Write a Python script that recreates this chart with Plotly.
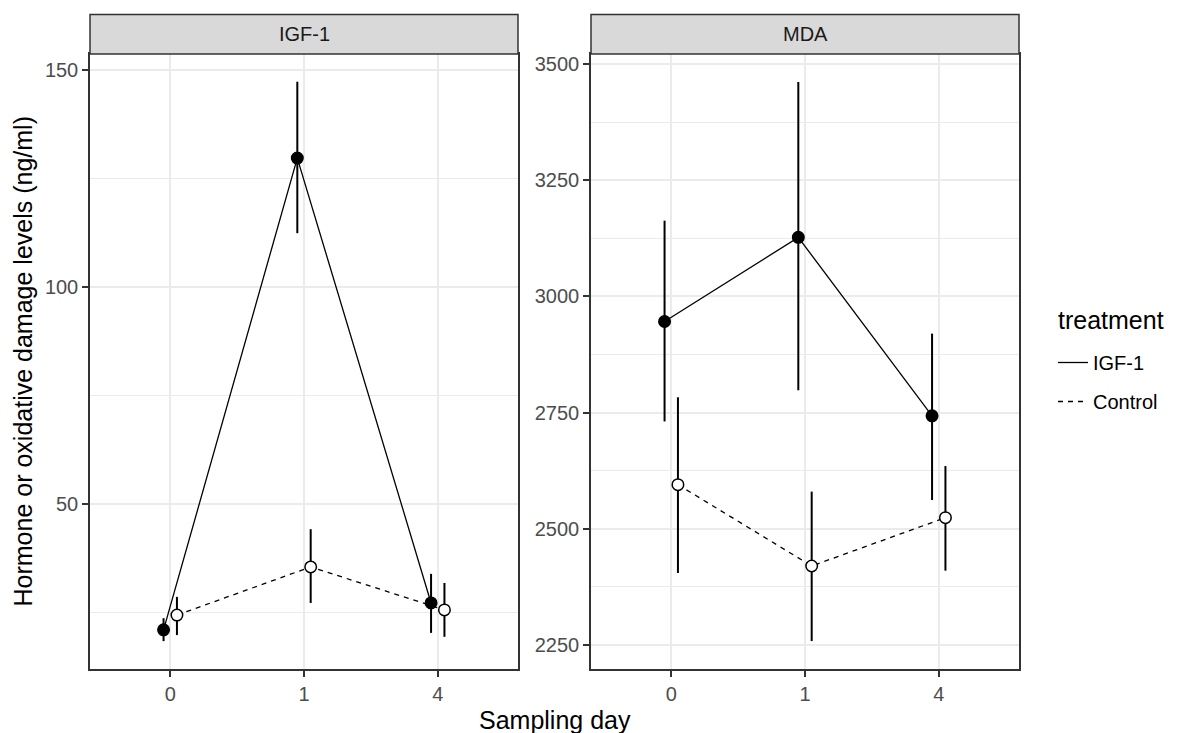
import plotly.graph_objects as go

# ---------------- data ----------------
days = ["0", "1", "4"]
treatments = ["IGF-1", "Control"]

igf_igf_mean = [21.0, 129.7, 27.2]
igf_igf_upper = [23.7, 147.3, 33.9]
igf_igf_lower = [18.4, 112.4, 20.3]

igf_ctrl_mean = [24.4, 35.5, 25.6]
igf_ctrl_upper = [28.6, 44.2, 31.8]
igf_ctrl_lower = [19.8, 27.2, 19.4]

mda_igf_mean = [2946, 3127, 2743]
mda_igf_upper = [3163, 3461, 2920]
mda_igf_lower = [2731, 2798, 2562]

mda_ctrl_mean = [2595, 2420, 2524]
mda_ctrl_upper = [2783, 2580, 2635]
mda_ctrl_lower = [2405, 2258.5, 2410]

igf_ticks = [50, 100, 150]
igf_minor = [25, 75, 125]
mda_ticks = [2250, 2500, 2750, 3000, 3250, 3500]
mda_minor = [2375, 2625, 2875, 3125, 3375]

# ---------------- layout constants ----------------
W, H = 1184, 733
FONT = "Liberation Sans, Arial, sans-serif"
DODGE = 0.05
SMALL = 20
BIG = 25

def px_x(p):
    return p / W

def px_y(p):
    return 1 - p / H

left_dom = [px_x(90), px_x(518)]
right_dom = [px_x(591), px_x(1019)]
y_dom = [px_y(669), px_y(54)]

fig = go.Figure()

def add_series(means, uppers, lowers, offset, dashed, xa, ya):
    xs = [i + offset for i in range(len(days))]
    plus = [u - m for u, m in zip(uppers, means)]
    minus = [m - l for m, l in zip(means, lowers)]
    fig.add_trace(go.Scatter(
        x=xs, y=means, mode="lines+markers",
        xaxis=xa, yaxis=ya, showlegend=False,
        line=dict(color="black", width=1.3, dash="5px,5px" if dashed else "solid"),
        marker=dict(size=11.5, color="white" if dashed else "black",
                    line=dict(color="black", width=1.5)),
        error_y=dict(type="data", array=plus, arrayminus=minus, visible=True,
                     thickness=2, width=0, color="black"),
    ))

add_series(igf_igf_mean, igf_igf_upper, igf_igf_lower, -DODGE, False, "x", "y")
add_series(igf_ctrl_mean, igf_ctrl_upper, igf_ctrl_lower, DODGE, True, "x", "y")
add_series(mda_igf_mean, mda_igf_upper, mda_igf_lower, -DODGE, False, "x2", "y2")
add_series(mda_ctrl_mean, mda_ctrl_upper, mda_ctrl_lower, DODGE, True, "x2", "y2")

# legend-only traces (linetype legend like ggplot)
for t, dashed in zip(treatments, [False, True]):
    fig.add_trace(go.Scatter(
        x=[None], y=[None], mode="lines", name=t, legendgroup=t,
        line=dict(color="black", width=1.3, dash="5px,5px" if dashed else "solid"),
    ))

common_x = dict(
    range=[-0.6, len(days) - 1 + 0.6],
    tickvals=list(range(len(days))), ticktext=days,
    showgrid=True, gridcolor="#EBEBEB", gridwidth=1.5,
    showline=True, linecolor="#333333", linewidth=1.5, mirror=True,
    ticks="outside", ticklen=6, tickwidth=1.5, tickcolor="#333333",
    tickfont=dict(family=FONT, size=SMALL, color="#4D4D4D"),
    zeroline=False, fixedrange=True,
)
common_y = dict(
    showgrid=True, gridcolor="#EBEBEB", gridwidth=1.5,
    showline=True, linecolor="#333333", linewidth=1.5, mirror=True,
    ticks="outside", ticklen=6, tickwidth=1.5, tickcolor="#333333",
    tickfont=dict(family=FONT, size=SMALL, color="#4D4D4D"),
    zeroline=False, fixedrange=True,
)

fig.update_layout(
    width=W, height=H, autosize=False,
    margin=dict(l=0, r=0, t=0, b=0),
    paper_bgcolor="white", plot_bgcolor="white",
    font=dict(family=FONT, color="black"),
    xaxis=dict(domain=left_dom, anchor="y", **common_x),
    xaxis2=dict(domain=right_dom, anchor="y2", **common_x),
    yaxis=dict(domain=y_dom, anchor="x", range=[11.98, 153.69], tickvals=igf_ticks,
               minor=dict(tickvals=igf_minor, showgrid=True, gridcolor="#EBEBEB",
                          gridwidth=0.8, ticks=""),
               **common_y),
    yaxis2=dict(domain=y_dom, anchor="x2", range=[2198.4, 3521.5], tickvals=mda_ticks,
                minor=dict(tickvals=mda_minor, showgrid=True, gridcolor="#EBEBEB",
                           gridwidth=0.8, ticks=""),
                **common_y),
    legend=dict(
        x=px_x(1053), y=px_y(343), xanchor="left", yanchor="top",
        font=dict(family=FONT, size=SMALL, color="black"),
        bgcolor="rgba(0,0,0,0)", traceorder="grouped", tracegroupgap=10,
    ),
)

# legend title
fig.add_annotation(xref="paper", yref="paper", x=px_x(1056), y=px_y(320),
                   text="treatment", showarrow=False, xanchor="left", yanchor="middle",
                   font=dict(family=FONT, size=BIG, color="black"))

# facet strips
strip_y = [px_y(54), px_y(14.5)]
for dom, label in zip([left_dom, right_dom], ["IGF-1", "MDA"]):
    fig.add_shape(type="rect", xref="paper", yref="paper",
                  x0=dom[0], x1=dom[1], y0=strip_y[0], y1=strip_y[1],
                  fillcolor="#D9D9D9", line=dict(color="#333333", width=1.5), layer="above")
    fig.add_annotation(xref="paper", yref="paper", x=(dom[0] + dom[1]) / 2,
                       y=(strip_y[0] + strip_y[1]) / 2, text=label, showarrow=False,
                       xanchor="center", yanchor="middle",
                       font=dict(family=FONT, size=SMALL, color="#1A1A1A"))

# axis titles
fig.add_annotation(xref="paper", yref="paper", x=(left_dom[0] + right_dom[1]) / 2,
                   y=px_y(720), text="Sampling day", showarrow=False,
                   xanchor="center", yanchor="middle",
                   font=dict(family=FONT, size=BIG, color="black"))
fig.add_annotation(xref="paper", yref="paper", x=px_x(22),
                   y=(y_dom[0] + y_dom[1]) / 2,
                   text="Hormone or oxidative damage levels (ng/ml)", showarrow=False,
                   textangle=-90, xanchor="center", yanchor="middle",
                   font=dict(family=FONT, size=BIG, color="black"))

fig.write_html("out.html")
